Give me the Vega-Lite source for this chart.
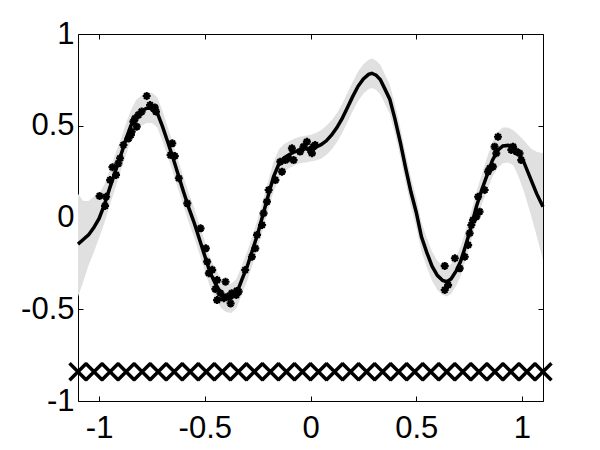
{
  "$schema": "https://vega.github.io/schema/vega-lite/v6.json",
  "autosize": "none",
  "width": 465,
  "height": 367,
  "padding": {"left": 78, "top": 34, "right": 57, "bottom": 49},
  "background": "white",
  "config": {
    "view": {"stroke": null},
    "axis": {
      "grid": false,
      "domainColor": "black",
      "domainWidth": 1,
      "tickColor": "black",
      "tickWidth": 1,
      "tickSize": -5,
      "labelFont": "Liberation Sans",
      "labelFontSize": 31,
      "labelColor": "black",
      "title": null
    }
  },
  "datasets": {
    "curve": [
      {"x": -1.1, "m": -0.145, "lo": -0.43, "hi": 0.13},
      {"x": -1.075, "m": -0.12, "lo": -0.35, "hi": 0.09},
      {"x": -1.05, "m": -0.095, "lo": -0.26, "hi": 0.09},
      {"x": -1.025, "m": -0.055, "lo": -0.19, "hi": 0.115},
      {"x": -1.0, "m": -0.005, "lo": -0.11, "hi": 0.13},
      {"x": -0.975, "m": 0.07, "lo": -0.03, "hi": 0.18},
      {"x": -0.95, "m": 0.16, "lo": 0.065, "hi": 0.26},
      {"x": -0.925, "m": 0.245, "lo": 0.155, "hi": 0.34},
      {"x": -0.9, "m": 0.33, "lo": 0.245, "hi": 0.42},
      {"x": -0.875, "m": 0.42, "lo": 0.335, "hi": 0.505},
      {"x": -0.85, "m": 0.5, "lo": 0.42, "hi": 0.585},
      {"x": -0.825, "m": 0.555, "lo": 0.475, "hi": 0.64},
      {"x": -0.8, "m": 0.58, "lo": 0.5, "hi": 0.665},
      {"x": -0.775, "m": 0.595, "lo": 0.515, "hi": 0.68},
      {"x": -0.75, "m": 0.595, "lo": 0.515, "hi": 0.68},
      {"x": -0.725, "m": 0.57, "lo": 0.49, "hi": 0.655},
      {"x": -0.7, "m": 0.495, "lo": 0.415, "hi": 0.58},
      {"x": -0.675, "m": 0.41, "lo": 0.33, "hi": 0.49},
      {"x": -0.65, "m": 0.323, "lo": 0.243, "hi": 0.403},
      {"x": -0.625, "m": 0.23, "lo": 0.15, "hi": 0.31},
      {"x": -0.6, "m": 0.138, "lo": 0.058, "hi": 0.218},
      {"x": -0.575, "m": 0.05, "lo": -0.03, "hi": 0.13},
      {"x": -0.55, "m": -0.03, "lo": -0.11, "hi": 0.05},
      {"x": -0.525, "m": -0.12, "lo": -0.2, "hi": -0.04},
      {"x": -0.5, "m": -0.21, "lo": -0.29, "hi": -0.13},
      {"x": -0.475, "m": -0.3, "lo": -0.38, "hi": -0.22},
      {"x": -0.45, "m": -0.36, "lo": -0.44, "hi": -0.28},
      {"x": -0.425, "m": -0.41, "lo": -0.49, "hi": -0.33},
      {"x": -0.4, "m": -0.435, "lo": -0.515, "hi": -0.355},
      {"x": -0.375, "m": -0.44, "lo": -0.52, "hi": -0.36},
      {"x": -0.35, "m": -0.415, "lo": -0.495, "hi": -0.335},
      {"x": -0.325, "m": -0.34, "lo": -0.42, "hi": -0.26},
      {"x": -0.3, "m": -0.268, "lo": -0.348, "hi": -0.188},
      {"x": -0.275, "m": -0.18, "lo": -0.26, "hi": -0.1},
      {"x": -0.25, "m": -0.09, "lo": -0.17, "hi": -0.01},
      {"x": -0.225, "m": 0.015, "lo": -0.065, "hi": 0.095},
      {"x": -0.2, "m": 0.12, "lo": 0.04, "hi": 0.2},
      {"x": -0.175, "m": 0.222, "lo": 0.142, "hi": 0.302},
      {"x": -0.15, "m": 0.29, "lo": 0.21, "hi": 0.37},
      {"x": -0.125, "m": 0.325, "lo": 0.25, "hi": 0.4},
      {"x": -0.1, "m": 0.343, "lo": 0.27, "hi": 0.415},
      {"x": -0.075, "m": 0.358, "lo": 0.285, "hi": 0.43},
      {"x": -0.05, "m": 0.368, "lo": 0.295, "hi": 0.44},
      {"x": -0.025, "m": 0.374, "lo": 0.3, "hi": 0.445},
      {"x": 0.0, "m": 0.377, "lo": 0.305, "hi": 0.45},
      {"x": 0.025, "m": 0.384, "lo": 0.31, "hi": 0.46},
      {"x": 0.05, "m": 0.397, "lo": 0.32, "hi": 0.475},
      {"x": 0.075, "m": 0.418, "lo": 0.34, "hi": 0.5},
      {"x": 0.1, "m": 0.45, "lo": 0.37, "hi": 0.53},
      {"x": 0.125, "m": 0.49, "lo": 0.41, "hi": 0.57},
      {"x": 0.15, "m": 0.54, "lo": 0.46, "hi": 0.62},
      {"x": 0.175, "m": 0.6, "lo": 0.52, "hi": 0.68},
      {"x": 0.2, "m": 0.66, "lo": 0.58, "hi": 0.74},
      {"x": 0.225, "m": 0.715, "lo": 0.635, "hi": 0.795},
      {"x": 0.25, "m": 0.755, "lo": 0.675, "hi": 0.835},
      {"x": 0.275, "m": 0.78, "lo": 0.7, "hi": 0.86},
      {"x": 0.29, "m": 0.786, "lo": 0.706, "hi": 0.866},
      {"x": 0.31, "m": 0.776, "lo": 0.696, "hi": 0.856},
      {"x": 0.33, "m": 0.752, "lo": 0.672, "hi": 0.832},
      {"x": 0.35, "m": 0.705, "lo": 0.625, "hi": 0.785},
      {"x": 0.375, "m": 0.645, "lo": 0.565, "hi": 0.725},
      {"x": 0.4, "m": 0.535, "lo": 0.455, "hi": 0.615},
      {"x": 0.425, "m": 0.41, "lo": 0.33, "hi": 0.49},
      {"x": 0.45, "m": 0.27, "lo": 0.19, "hi": 0.35},
      {"x": 0.475, "m": 0.14, "lo": 0.06, "hi": 0.22},
      {"x": 0.5, "m": 0.03, "lo": -0.05, "hi": 0.11},
      {"x": 0.525, "m": -0.105, "lo": -0.185, "hi": -0.025},
      {"x": 0.55, "m": -0.19, "lo": -0.27, "hi": -0.11},
      {"x": 0.575, "m": -0.265, "lo": -0.345, "hi": -0.185},
      {"x": 0.6, "m": -0.315, "lo": -0.395, "hi": -0.235},
      {"x": 0.625, "m": -0.343, "lo": -0.423, "hi": -0.263},
      {"x": 0.645, "m": -0.35, "lo": -0.43, "hi": -0.27},
      {"x": 0.665, "m": -0.335, "lo": -0.415, "hi": -0.255},
      {"x": 0.69, "m": -0.29, "lo": -0.37, "hi": -0.21},
      {"x": 0.71, "m": -0.24, "lo": -0.32, "hi": -0.16},
      {"x": 0.735, "m": -0.15, "lo": -0.23, "hi": -0.07},
      {"x": 0.76, "m": -0.05, "lo": -0.13, "hi": 0.03},
      {"x": 0.785, "m": 0.06, "lo": -0.02, "hi": 0.14},
      {"x": 0.81, "m": 0.15, "lo": 0.07, "hi": 0.235},
      {"x": 0.835, "m": 0.23, "lo": 0.145, "hi": 0.325},
      {"x": 0.86, "m": 0.31, "lo": 0.22, "hi": 0.41},
      {"x": 0.885, "m": 0.365, "lo": 0.27, "hi": 0.465},
      {"x": 0.91, "m": 0.39, "lo": 0.295, "hi": 0.49},
      {"x": 0.935, "m": 0.393, "lo": 0.3, "hi": 0.49},
      {"x": 0.96, "m": 0.385, "lo": 0.285, "hi": 0.475},
      {"x": 0.985, "m": 0.35, "lo": 0.22, "hi": 0.45},
      {"x": 1.01, "m": 0.3, "lo": 0.14, "hi": 0.42},
      {"x": 1.044, "m": 0.204, "lo": 0.01, "hi": 0.375},
      {"x": 1.07, "m": 0.13, "lo": -0.1, "hi": 0.358},
      {"x": 1.1, "m": 0.058, "lo": -0.232, "hi": 0.35}
    ],
    "pts": [
      {"x": -0.998, "y": 0.117}, {"x": -0.967, "y": 0.113}, {"x": -0.972, "y": 0.063},
      {"x": -0.948, "y": 0.204}, {"x": -0.937, "y": 0.274}, {"x": -0.92, "y": 0.232},
      {"x": -0.909, "y": 0.295}, {"x": -0.901, "y": 0.323}, {"x": -0.885, "y": 0.395},
      {"x": -0.861, "y": 0.431}, {"x": -0.846, "y": 0.468}, {"x": -0.838, "y": 0.522},
      {"x": -0.822, "y": 0.495}, {"x": -0.814, "y": 0.559}, {"x": -0.83, "y": 0.54},
      {"x": -0.799, "y": 0.577}, {"x": -0.775, "y": 0.662}, {"x": -0.759, "y": 0.613},
      {"x": -0.743, "y": 0.595}, {"x": -0.731, "y": 0.577}, {"x": -0.737, "y": 0.6},
      {"x": -0.85, "y": 0.45},
      {"x": -0.654, "y": 0.404}, {"x": -0.662, "y": 0.34}, {"x": -0.642, "y": 0.335},
      {"x": -0.623, "y": 0.214}, {"x": -0.583, "y": 0.077}, {"x": -0.52, "y": -0.059},
      {"x": -0.495, "y": -0.168}, {"x": -0.489, "y": -0.241}, {"x": -0.481, "y": -0.304},
      {"x": -0.465, "y": -0.285}, {"x": -0.442, "y": -0.341}, {"x": -0.45, "y": -0.39},
      {"x": -0.402, "y": -0.35}, {"x": -0.426, "y": -0.413}, {"x": -0.442, "y": -0.45},
      {"x": -0.41, "y": -0.44}, {"x": -0.378, "y": -0.468}, {"x": -0.373, "y": -0.413},
      {"x": -0.349, "y": -0.4}, {"x": -0.351, "y": -0.422}, {"x": -0.39, "y": -0.43},
      {"x": -0.34, "y": -0.404}, {"x": -0.309, "y": -0.286}, {"x": -0.277, "y": -0.214},
      {"x": -0.261, "y": -0.168}, {"x": -0.253, "y": -0.095}, {"x": -0.229, "y": -0.041},
      {"x": -0.222, "y": 0.023}, {"x": -0.206, "y": 0.086}, {"x": -0.198, "y": 0.15},
      {"x": -0.166, "y": 0.204}, {"x": -0.143, "y": 0.304}, {"x": -0.135, "y": 0.25},
      {"x": -0.119, "y": 0.313}, {"x": -0.104, "y": 0.323}, {"x": -0.088, "y": 0.377},
      {"x": -0.08, "y": 0.313}, {"x": -0.049, "y": 0.359}, {"x": -0.033, "y": 0.386},
      {"x": -0.017, "y": 0.413}, {"x": -0.001, "y": 0.368}, {"x": 0.022, "y": 0.395},
      {"x": 0.007, "y": 0.35}, {"x": 0.014, "y": 0.386},
      {"x": 0.635, "y": -0.264}, {"x": 0.683, "y": -0.222}, {"x": 0.635, "y": -0.395},
      {"x": 0.651, "y": -0.368}, {"x": 0.706, "y": -0.277}, {"x": 0.73, "y": -0.214},
      {"x": 0.746, "y": -0.15}, {"x": 0.753, "y": -0.086}, {"x": 0.761, "y": -0.041},
      {"x": 0.769, "y": -0.014}, {"x": 0.785, "y": 0.005}, {"x": 0.8, "y": 0.032},
      {"x": 0.793, "y": 0.113}, {"x": 0.824, "y": 0.15}, {"x": 0.84, "y": 0.25},
      {"x": 0.848, "y": 0.268}, {"x": 0.863, "y": 0.277}, {"x": 0.871, "y": 0.386},
      {"x": 0.879, "y": 0.35}, {"x": 0.887, "y": 0.44}, {"x": 0.95, "y": 0.368},
      {"x": 0.958, "y": 0.386}, {"x": 0.974, "y": 0.359}, {"x": 0.989, "y": 0.35},
      {"x": 0.997, "y": 0.313}
    ],
    "crosses": [
      {"x": -1.1, "y": -0.84}, {"x": -1.0241, "y": -0.84}, {"x": -0.9483, "y": -0.84},
      {"x": -0.8724, "y": -0.84}, {"x": -0.7966, "y": -0.84}, {"x": -0.7207, "y": -0.84},
      {"x": -0.6448, "y": -0.84}, {"x": -0.569, "y": -0.84}, {"x": -0.4931, "y": -0.84},
      {"x": -0.4172, "y": -0.84}, {"x": -0.3414, "y": -0.84}, {"x": -0.2655, "y": -0.84},
      {"x": -0.1897, "y": -0.84}, {"x": -0.1138, "y": -0.84}, {"x": -0.0379, "y": -0.84},
      {"x": 0.0379, "y": -0.84}, {"x": 0.1138, "y": -0.84}, {"x": 0.1897, "y": -0.84},
      {"x": 0.2655, "y": -0.84}, {"x": 0.3414, "y": -0.84}, {"x": 0.4172, "y": -0.84},
      {"x": 0.4931, "y": -0.84}, {"x": 0.569, "y": -0.84}, {"x": 0.6448, "y": -0.84},
      {"x": 0.7207, "y": -0.84}, {"x": 0.7966, "y": -0.84}, {"x": 0.8724, "y": -0.84},
      {"x": 0.9483, "y": -0.84}, {"x": 1.0241, "y": -0.84}, {"x": 1.1, "y": -0.84}
    ]
  },
  "resolve": {"axis": {"x": "independent", "y": "independent"}},
  "layer": [
    {
      "data": {"name": "curve"},
      "mark": {"type": "area", "color": "#e0e0e0", "opacity": 1},
      "encoding": {
        "x": {"field": "x", "type": "quantitative",
              "scale": {"domain": [-1.1, 1.1], "nice": false, "zero": false},
              "axis": {"orient": "bottom", "values": [-1, -0.5, 0, 0.5, 1], "labelExpr": "'' + datum.value", "labelPadding": 17}},
        "y": {"field": "lo", "type": "quantitative",
              "scale": {"domain": [-1, 1], "nice": false, "zero": false},
              "axis": {"orient": "left", "values": [-1, -0.5, 0, 0.5, 1], "labelExpr": "'' + datum.value", "labelPadding": 9}},
        "y2": {"field": "hi"}
      }
    },
    {
      "data": {"name": "curve"},
      "mark": {"type": "line", "color": "black", "strokeWidth": 3.5},
      "encoding": {
        "x": {"field": "x", "type": "quantitative", "axis": null},
        "y": {"field": "m", "type": "quantitative", "axis": null}
      }
    },
    {
      "data": {"name": "pts"},
      "mark": {"type": "point", "shape": "M0,-1L0,1M-1,0L1,0M-0.7,-0.7L0.7,0.7M-0.7,0.7L0.7,-0.7", "size": 64, "filled": false, "stroke": "black", "strokeWidth": 2.2, "opacity": 1},
      "encoding": {
        "x": {"field": "x", "type": "quantitative", "axis": null},
        "y": {"field": "y", "type": "quantitative", "axis": null}
      }
    },
    {
      "data": {"name": "crosses"},
      "mark": {"type": "point", "shape": "M-1,-1L1,1M-1,1L1,-1", "size": 289, "filled": false, "stroke": "black", "strokeWidth": 3.5, "opacity": 1},
      "encoding": {
        "x": {"field": "x", "type": "quantitative",
              "axis": {"orient": "top", "values": [-1, -0.5, 0, 0.5, 1], "labels": false}},
        "y": {"field": "y", "type": "quantitative",
              "axis": {"orient": "right", "values": [-1, -0.5, 0, 0.5, 1], "labels": false}}
      }
    }
  ]
}
